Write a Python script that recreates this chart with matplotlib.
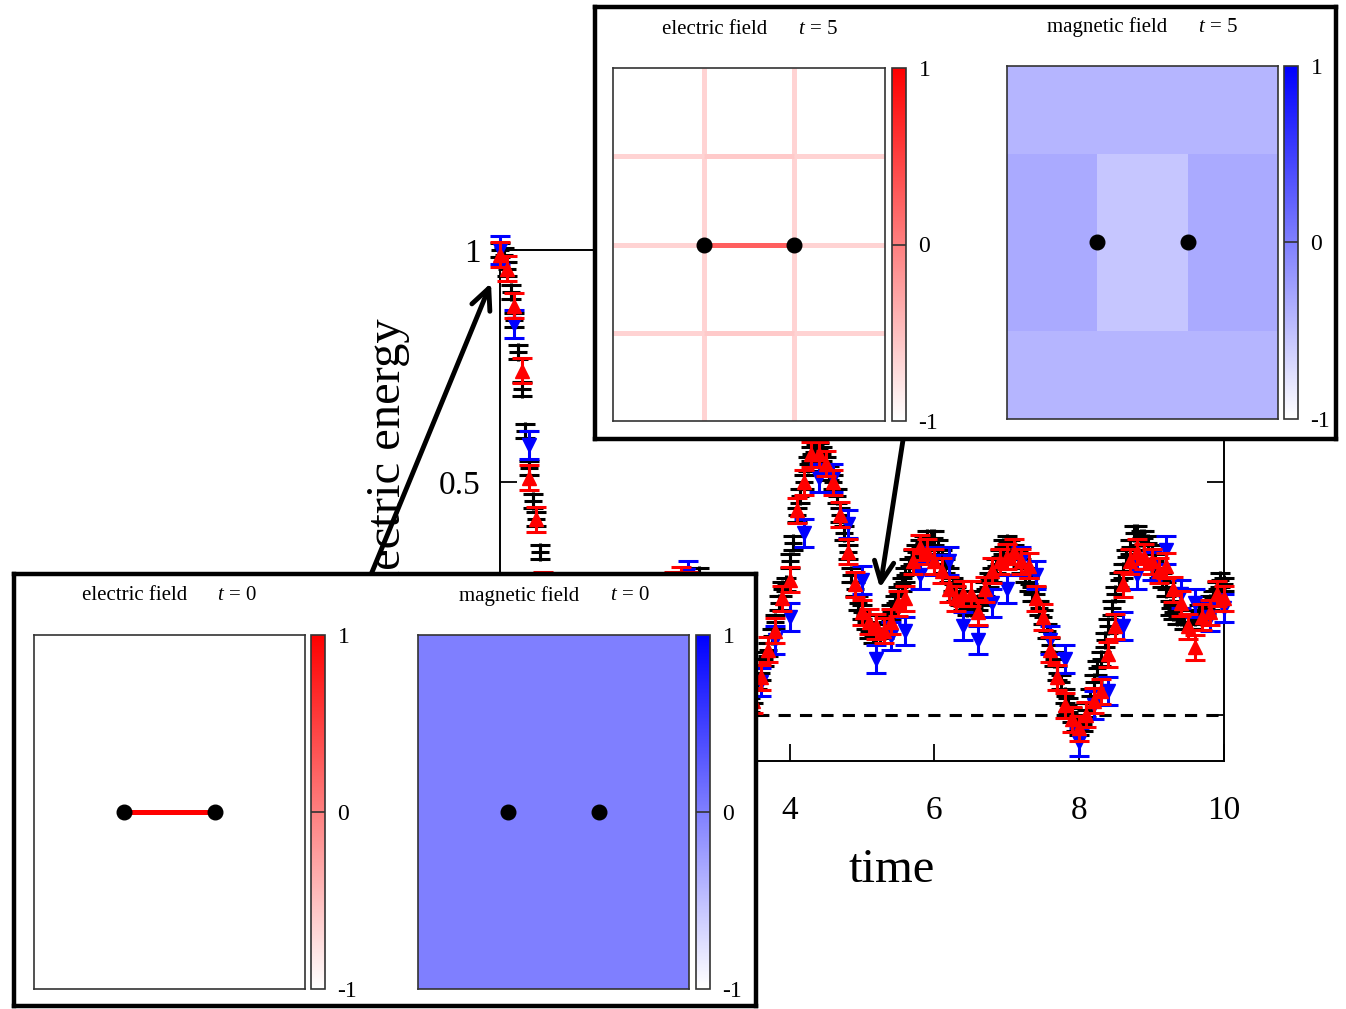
import numpy as np
import matplotlib
matplotlib.use('Agg')
import matplotlib.pyplot as plt
from matplotlib.colors import LinearSegmentedColormap, Normalize
from matplotlib.patches import FancyArrowPatch
from matplotlib.cm import ScalarMappable

plt.rcParams['font.family'] = ['Liberation Serif', 'DejaVu Serif']
plt.rcParams['mathtext.fontset'] = 'custom'
plt.rcParams['mathtext.it'] = 'Liberation Serif:italic'
plt.rcParams['mathtext.rm'] = 'Liberation Serif'

W, H = 1346, 1009

# ---------------- data ----------------
t_black = np.round(np.arange(0, 10.0001, 0.05), 2)
black_E = [
    1.00, 0.99, 0.96, 0.91, 0.85, 0.78, 0.70, 0.61, 0.53, 0.46, 0.42, 0.35, 0.29, 0.24, 0.20, 0.16, 0.13, 0.11, 0.10, 0.09,
    0.09, 0.10, 0.11, 0.13, 0.15, 0.17, 0.19, 0.20, 0.21, 0.21, 0.21, 0.20, 0.19, 0.18, 0.17, 0.17, 0.17, 0.18, 0.19, 0.20,
    0.21, 0.22, 0.23, 0.24, 0.25, 0.26, 0.27, 0.27, 0.28, 0.28, 0.28, 0.28, 0.28, 0.28, 0.29, 0.30, 0.27, 0.24, 0.21, 0.18,
    0.15, 0.12, 0.09, 0.06, 0.04, 0.02, 0.01, 0.00, 0.01, 0.02, 0.04, 0.07, 0.09, 0.12, 0.14, 0.17, 0.20, 0.24, 0.27, 0.28,
    0.33, 0.37, 0.43, 0.47, 0.50, 0.54, 0.56, 0.58, 0.57, 0.56, 0.54, 0.52, 0.50, 0.47, 0.43, 0.39, 0.35, 0.30, 0.27, 0.24,
    0.22, 0.20, 0.18, 0.17, 0.17, 0.17, 0.18, 0.20, 0.22, 0.24, 0.26, 0.28, 0.30, 0.32, 0.34, 0.35, 0.36, 0.37, 0.38, 0.38,
    0.38, 0.36, 0.34, 0.32, 0.30, 0.28, 0.26, 0.25, 0.24, 0.23, 0.23, 0.23, 0.24, 0.25, 0.27, 0.29, 0.30, 0.32, 0.34, 0.36,
    0.37, 0.36, 0.35, 0.34, 0.32, 0.30, 0.28, 0.26, 0.26, 0.23, 0.21, 0.18, 0.15, 0.12, 0.09, 0.07, 0.04, 0.02, 0.00, -0.02,
    -0.03, -0.02, 0.01, 0.04, 0.07, 0.10, 0.12, 0.16, 0.19, 0.23, 0.26, 0.29, 0.31, 0.34, 0.36, 0.39, 0.39, 0.38, 0.38, 0.37,
    0.35, 0.33, 0.31, 0.29, 0.27, 0.23, 0.22, 0.21, 0.21, 0.20, 0.20, 0.20, 0.21, 0.22, 0.22, 0.23, 0.24, 0.25, 0.27, 0.29,
    0.28]
black_err = 0.015

t_red = np.round(np.arange(0, 10.0001, 0.1), 2)
red_E = [
    0.99, 0.96, 0.88, 0.74, 0.51, 0.42, 0.28, 0.19, 0.13, 0.10,
    0.10, 0.12, 0.16, 0.19, 0.21, 0.20, 0.18, 0.17, 0.18, 0.20,
    0.22, 0.24, 0.26, 0.27, 0.28, 0.29, 0.28, 0.27, 0.23, 0.17,
    0.13, 0.08, 0.05, 0.02, 0.01, 0.03, 0.08, 0.14, 0.18, 0.25,
    0.29, 0.44, 0.50, 0.56, 0.56, 0.54, 0.50, 0.43, 0.35, 0.28,
    0.22, 0.20, 0.19, 0.18, 0.20, 0.24, 0.25, 0.33, 0.36, 0.35,
    0.33, 0.31, 0.27, 0.25, 0.26, 0.26, 0.22, 0.27, 0.31, 0.33,
    0.34, 0.35, 0.33, 0.32, 0.25, 0.21, 0.14, 0.08, 0.02, -0.01,
    -0.03, 0.00, 0.03, 0.05, 0.13, 0.19, 0.28, 0.33, 0.35, 0.34,
    0.33, 0.31, 0.32, 0.27, 0.24, 0.19, 0.145, 0.21, 0.22, 0.26,
    0.25]
red_err = 0.027

t_blue = np.round(np.arange(0, 10.0001, 0.2), 2)
blue_E = [
    1.00, 0.84, 0.58, 0.275, 0.12,
    0.09, 0.15, 0.20, 0.17, 0.18,
    0.21, 0.24, 0.27, 0.30, 0.24,
    0.13, 0.05, 0.01, 0.07, 0.16,
    0.21, 0.39, 0.51, 0.51, 0.41,
    0.29, 0.12, 0.17, 0.18, 0.30,
    0.33, 0.33, 0.19, 0.16, 0.24,
    0.27, 0.33, 0.30, 0.16, 0.12,
    -0.06, 0.02, 0.05, 0.19, 0.30,
    0.32, 0.355, 0.26, 0.24, 0.21,
    0.23]
blue_err = 0.03

reference_level = 0.0
x_ticks = [0, 2, 4, 6, 8, 10]
y_ticks = [0, 0.5, 1]
y_ticklabels = ['0', '0.5', '1']

# lattice field snapshots (horizontal links per row y=1..3, vertical links per column x=1..2)
E_h_t0 = [[-1, -1, -1], [-1, 1, -1], [-1, -1, -1]]
E_v_t0 = [[-1, -1, -1, -1], [-1, -1, -1, -1]]
E_h_t5 = [[-0.65, -0.58, -0.65], [-0.65, 0.25, -0.65], [-0.65, -0.58, -0.65]]
E_v_t5 = [[-0.65, -0.65, -0.65, -0.65], [-0.65, -0.65, -0.65, -0.65]]
B_t0 = [[0, 0, 0], [0, 0, 0], [0, 0, 0], [0, 0, 0]]
B_t5 = [[-0.42, -0.42, -0.42], [-0.33, -0.55, -0.33], [-0.33, -0.55, -0.33], [-0.42, -0.42, -0.42]]
charge_x = [1, 2]
charge_y = [2, 2]

cmap_E = LinearSegmentedColormap.from_list('wr', ['#ffffff', '#ff0000'])
cmap_B = LinearSegmentedColormap.from_list('wb', ['#ffffff', '#0000ff'])
norm = Normalize(-1, 1)


def rect(x0, y0, x1, y1):
    return [x0 / W, 1 - y1 / H, (x1 - x0) / W, (y1 - y0) / H]


fig = plt.figure(figsize=(W / 100, H / 100), dpi=100)

# ---------------- main axes ----------------
ax = fig.add_axes(rect(500, 250, 1224, 761), zorder=0)
ax.errorbar(t_black, black_E, yerr=black_err, fmt='+', color='black', ms=13, markeredgewidth=2.2,
            elinewidth=2.2, capsize=7, capthick=2.2, zorder=3)
ax.errorbar(t_blue, blue_E, yerr=blue_err, fmt='v', color='#0000ff', ms=10,
            elinewidth=2.2, capsize=7, capthick=2.2, zorder=4)
ax.errorbar(t_red, red_E, yerr=red_err, fmt='^', color='#ff0000', ms=10,
            elinewidth=2.2, capsize=7, capthick=2.2, zorder=5)
for ch in ax.get_children():
    if hasattr(ch, 'set_clip_on') and ch not in ax.spines.values():
        try:
            ch.set_clip_on(False)
        except Exception:
            pass
ax.axhline(reference_level, color='black', lw=2.2, ls=(0, (4, 3)), zorder=2)
ax.set_xlim(0, 10)
ax.set_ylim(-0.1, 1.0)
ax.set_xticks(x_ticks)
ax.set_yticks(y_ticks)
ax.set_yticklabels(y_ticklabels)
ax.tick_params(direction='in', length=12, width=1.3, labelsize=24, top=True, right=True)
ax.tick_params(axis='x', pad=25)
ax.tick_params(axis='y', pad=14)
for s in ax.spines.values():
    s.set_linewidth(1.4)
ax.patch.set_alpha(0)

fig.text(388 / W, 1 - 462 / H, 'electric energy', rotation=90, ha='center', va='center', fontsize=35)
fig.text(892 / W, 1 - 870 / H, 'time', ha='center', va='center', fontsize=35)

# arrows
for (xa, ya), (xb, yb) in [((370, 577), (491, 283)), ((903, 440), (880, 588))]:
    arr = FancyArrowPatch((xa / W, 1 - ya / H), (xb / W, 1 - yb / H), transform=fig.transFigure,
                          arrowstyle='->,head_length=0.75,head_width=0.35', mutation_scale=20,
                          lw=3.5, color='black', shrinkA=0, shrinkB=0, zorder=5)
    fig.add_artist(arr)


# ---------------- insets ----------------
def frame(r):
    f = fig.add_axes(r, zorder=10)
    f.set_xticks([]); f.set_yticks([])
    f.set_facecolor('white')
    for s in f.spines.values():
        s.set_linewidth(3.2)
        s.set_color('black')
    return f


def style_panel(a):
    a.set_xticks([]); a.set_yticks([])
    for s in a.spines.values():
        s.set_linewidth(1.2)
        s.set_color('#333333')
    a.set_xlim(0, 3); a.set_ylim(0, 4)


def draw_E(r, Eh, Ev):
    a = fig.add_axes(r, zorder=11)
    segs = []
    for j, row in enumerate(Eh):
        for i, v in enumerate(row):
            segs.append(((i, i + 1), (j + 1, j + 1), v))
    for i, col in enumerate(Ev):
        for j, v in enumerate(col):
            segs.append(((i + 1, i + 1), (j, j + 1), v))
    segs.sort(key=lambda s: s[2])
    for xs, ys, v in segs:
        a.plot(xs, ys, color=cmap_E(norm(v)), lw=3.6, solid_capstyle='butt', zorder=1)
    a.plot(charge_x, charge_y, 'o', color='black', ms=10.5, zorder=3)
    style_panel(a)
    return a


def draw_B(r, B):
    a = fig.add_axes(r, zorder=11)
    a.imshow(np.array(B), cmap=cmap_B, norm=norm, origin='lower', extent=[0, 3, 0, 4],
             aspect='auto', interpolation='nearest')
    a.plot(charge_x, charge_y, 'o', color='black', ms=10.5, zorder=3)
    style_panel(a)
    return a


def draw_cbar(r, cmap):
    c = fig.add_axes(r, zorder=11)
    cb = fig.colorbar(ScalarMappable(norm=norm, cmap=cmap), cax=c, ticks=[-1, 0, 1])
    c.set_yticklabels(['-1', '0', '1'])
    c.tick_params(length=0, pad=9, labelsize=17)
    c.axhline(0, color='#333333', lw=1.2)
    cb.outline.set_edgecolor('#333333')
    cb.outline.set_linewidth(1.2)


def title(x1, x2, y, name, tval):
    fig.text(x1 / W, 1 - y / H, name, ha='left', va='center', fontsize=15, zorder=12)
    fig.text(x2 / W, 1 - y / H, r'$t$ = ' + tval, ha='left', va='center', fontsize=15, zorder=12)


# top inset (t = 5)
frame(rect(595, 7, 1336, 439))
draw_E(rect(613, 68, 885, 421), E_h_t5, E_v_t5)
draw_cbar(rect(892, 68, 906, 421), cmap_E)
draw_B(rect(1007, 66, 1278, 419), B_t5)
draw_cbar(rect(1284, 66, 1298, 419), cmap_B)
title(662, 798, 29, 'electric field', '5')
title(1047, 1198, 27, 'magnetic field', '5')

# bottom inset (t = 0)
frame(rect(14, 574, 756, 1006))
draw_E(rect(34, 635, 305, 989), E_h_t0, E_v_t0)
draw_cbar(rect(311, 635, 325, 989), cmap_E)
draw_B(rect(418, 635, 689, 989), B_t0)
draw_cbar(rect(696, 635, 710, 989), cmap_B)
title(82, 217, 596, 'electric field', '0')
title(459, 610, 596, 'magnetic field', '0')

fig.savefig('out.png', dpi=100)
